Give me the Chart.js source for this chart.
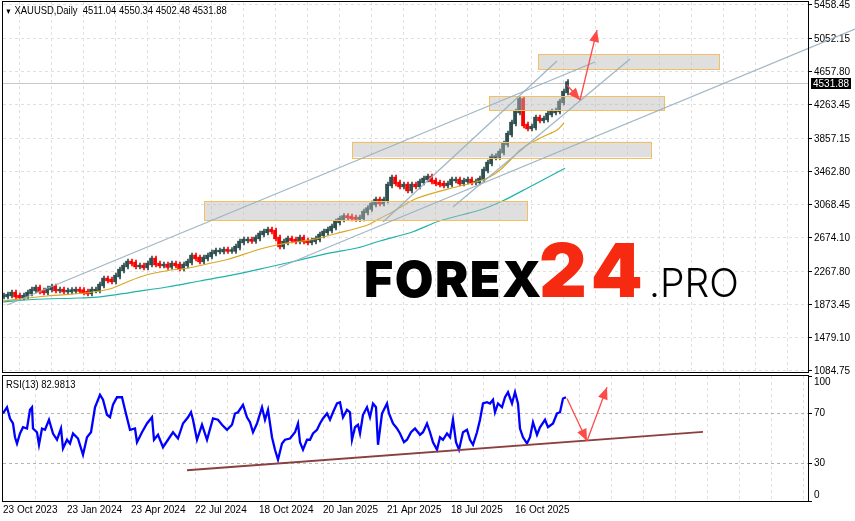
<!DOCTYPE html>
<html>
<head>
<meta charset="utf-8">
<script src="https://cdn.jsdelivr.net/npm/chart.js@4.4.0/dist/chart.umd.min.js"></script>
<style>
html, body { margin: 0; padding: 0; background: #fff; }
#wrap { position: relative; width: 855px; height: 521px; overflow: hidden; }
.txt { position: absolute; white-space: pre; color: #000; font-size: 11px; transform: scaleX(0.86); transform-origin: left top;
       font-family: "Liberation Sans", sans-serif; }
.logo { position: absolute; white-space: pre; line-height: 1; font-family: Inter, "Open Sans", sans-serif; }
</style>
</head>
<body>
<div id="wrap">
  <canvas id="priceChart" width="855" height="375" style="position:absolute;left:0;top:0"></canvas>
  <canvas id="rsiChart" width="855" height="147" style="position:absolute;left:0;top:374px"></canvas>
  <div class="txt" id="title" style="left:5px;top:4px"></div>
  <div class="txt" id="rsiTitle" style="left:6px;top:378px"></div>
  <div class="logo" style="left:364px;top:254px;font-size:50px;font-weight:900;letter-spacing:1.5px;color:#000">FOREX</div>
  <div class="logo" style="left:539px;top:233px;font-size:74px;font-weight:900;letter-spacing:5px;color:#f62a10">24</div>
  <div class="logo" style="left:649px;top:263px;font-size:39px;font-weight:300;color:#000">.PRO</div>
</div>
<script>
// Data: one point per 4 daily bars, XAUUSD closes
const symbol = 'XAUUSD,Daily';
const lastBar = [4511.04, 4550.34, 4502.48, 4531.88]; // O H L C
const barsPerPoint = 4;
const closes = [
    1980, 1992, 2016, 1980, 1968, 1980, 2016, 2052, 2076, 2040,
    2028, 2064, 2088, 2052, 2052, 2040, 2040, 2046, 2052, 2046,
    2028, 2016, 2052, 2052, 2112, 2184, 2172, 2160, 2219, 2291,
    2339, 2387, 2375, 2339, 2339, 2327, 2363, 2423, 2363, 2351,
    2351, 2333, 2363, 2351, 2315, 2351, 2387, 2459, 2435, 2399,
    2435, 2459, 2494, 2518, 2518, 2530, 2524, 2524, 2566, 2626,
    2650, 2650, 2644, 2674, 2722, 2746, 2769, 2757, 2674, 2578,
    2626, 2662, 2650, 2638, 2674, 2638, 2626, 2638, 2662, 2710,
    2746, 2769, 2805, 2865, 2901, 2931, 2925, 2913, 2907, 2913,
    2984, 3026, 3080, 3128, 3092, 3128, 3307, 3391, 3331, 3295,
    3307, 3247, 3307, 3295, 3343, 3379, 3403, 3355, 3331, 3319,
    3307, 3319, 3367, 3367, 3331, 3355, 3367, 3343, 3343, 3379,
    3486, 3570, 3642, 3648, 3701, 3797, 3916, 4048, 4179, 4330,
    4024, 3988, 4000, 4108, 4084, 4096, 4155, 4179, 4191, 4299,
    4418, 4531.88
];

// Moving averages (bar number, price)
const maFastBars = [0, 44, 80, 97, 110, 124, 137, 147, 164, 184, 204, 225, 254, 274, 287, 307, 320, 334, 354, 367, 377, 390, 414, 454, 474, 487, 497, 510, 517, 527, 540, 554, 561];
const maFast = [1921, 1981, 2013, 2040, 2076, 2148, 2208, 2244, 2283, 2312, 2363, 2419, 2530, 2590, 2618, 2650, 2682, 2730, 2790, 2841, 2909, 2988, 3148, 3287, 3347, 3406, 3486, 3638, 3725, 3805, 3884, 3964, 4048];
const maSlowBars = [0, 30, 77, 97, 130, 164, 197, 230, 264, 297, 327, 354, 377, 410, 437, 477, 500, 527, 562];
const maSlow = [1909, 1939, 1957, 1969, 2028, 2088, 2160, 2232, 2321, 2411, 2495, 2554, 2638, 2749, 2880, 3008, 3119, 3287, 3507];

// RSI(13)
const rsiBars = [
    0, 4, 7, 10, 12, 14, 17, 20, 24, 27, 29, 30, 34, 36, 39, 42, 46, 50, 54, 58,
    60, 64, 67, 70, 75, 80, 84, 88, 92, 97, 100, 104, 107, 110, 114, 119, 122, 127, 132, 134,
    139, 144, 149, 151, 155, 160, 165, 170, 175, 180, 185, 188, 190, 194, 199, 204, 210, 215, 219, 224,
    229, 232, 235, 240, 244, 247, 250, 254, 259, 262, 265, 269, 272, 275, 279, 282, 287, 292, 295, 297,
    300, 304, 307, 310, 314, 317, 320, 324, 327, 330, 334, 337, 340, 344, 347, 349, 352, 355, 357, 360,
    364, 367, 370, 373, 375, 379, 384, 386, 390, 394, 397, 401, 404, 408, 412, 417, 420, 424, 427, 430,
    434, 437, 440, 444, 447, 450, 453, 456, 460, 464, 467, 470, 474, 477, 480, 484, 487, 490, 492, 495,
    499, 502, 505, 509, 512, 515, 517, 520, 524, 527, 530, 534, 537, 542, 545, 550, 554, 557, 560, 563
];
const rsiValues = [
    70, 75, 66, 62, 51, 46, 54, 59, 58, 73, 75, 58, 55, 45, 58, 57, 65, 54, 49, 58,
    42, 49, 46, 54, 50, 37, 51, 55, 75, 85, 81, 69, 67, 77, 83, 83, 73, 57, 58, 47,
    55, 62, 67, 49, 53, 43, 49, 55, 50, 62, 67, 71, 65, 49, 61, 49, 66, 65, 61, 57,
    61, 70, 71, 77, 67, 63, 55, 62, 75, 65, 73, 51, 41, 33, 46, 49, 50, 55, 62, 47,
    41, 49, 49, 54, 57, 62, 66, 70, 65, 71, 78, 79, 67, 73, 71, 49, 59, 61, 54, 69,
    75, 67, 78, 75, 45, 70, 78, 70, 62, 58, 54, 47, 49, 55, 58, 53, 55, 62, 55, 47,
    41, 51, 49, 54, 51, 65, 47, 41, 55, 57, 49, 45, 55, 65, 78, 79, 78, 81, 71, 78,
    75, 83, 87, 78, 87, 78, 58, 51, 46, 51, 63, 53, 59, 65, 59, 62, 70, 71, 82, 82.9813
];

// Axes
const dateLabels = ['23 Oct 2023', '23 Jan 2024', '23 Apr 2024', '22 Jul 2024', '18 Oct 2024', '20 Jan 2025', '21 Apr 2025', '18 Jul 2025', '16 Oct 2025'];
const priceTicks = [5458.45, 5052.15, 4657.80, 4263.45, 3857.15, 3462.80, 3068.45, 2674.10, 2267.80, 1873.45, 1479.10, 1084.75];
const rsiTicks = [0, 30, 70, 100];
const priceMin = 1072.4, priceMax = 5493.9;
const barMax = 805;

// Drawn objects: zones [bar from, bar to, price low, price high], lines [bar, price, bar, price]
const zones = [[535, 716, 4690, 4869], [486, 661, 4195, 4367], [349, 648, 3638, 3824], [201, 524, 2880, 3112]];
const trendLines = [
    [4, 1873, 592, 4777],
    [275, 2315, 852, 5171],
    [380, 2865, 554, 4789],
    [450, 3044, 627, 4813]
];
const priceArrows = [[564, 4502], [577, 4323], [594, 5159]];
const rsiLine = [184, 24.6, 700, 55.3];
const rsiArrows = [[564, 82], [584, 48], [604, 91]];

const FONT = '"Liberation Sans", sans-serif';
const gridBars = [];
for (let b = 32; b <= barMax; b += 32) gridBars.push(b);

document.getElementById('title').innerHTML =
    '<span style="font-size:8px">&#9660;</span> ' + symbol + '  ' + lastBar.map(v => v.toFixed(2)).join(' ');
document.getElementById('rsiTitle').textContent = 'RSI(13) ' + rsiValues[rsiValues.length - 1].toFixed(4);

// Candles: body from previous close to close, thin wick around it
const candles = closes.map((c, i) => {
    const prev = i ? closes[i - 1] : c;
    return { x: i * barsPerPoint, y: [Math.min(prev, c) - 10, Math.max(prev, c) + 10] };
});
const wicks = closes.map((c, i) => {
    const prev = i ? closes[i - 1] : c;
    return { x: i * barsPerPoint + 1, y: [Math.min(prev, c) - 35, Math.max(prev, c) + 35] };
});
const candleColors = closes.map((c, i) => (i && c < closes[i - 1]) ? '#ff0000' : '#2f4f4f');

function noPad(s) {
    s.paddingTop = 0; s.paddingBottom = 0; s.paddingLeft = 0; s.paddingRight = 0;
}

function drawArrow(ctx, x1, y1, x2, y2, color) {
    ctx.strokeStyle = color;
    ctx.fillStyle = color;
    ctx.lineWidth = 1.3;
    ctx.beginPath();
    ctx.moveTo(x1, y1);
    ctx.lineTo(x2, y2);
    ctx.stroke();
    const a = Math.atan2(y2 - y1, x2 - x1), L = 12, W = 5;
    ctx.beginPath();
    ctx.moveTo(x2, y2);
    ctx.lineTo(x2 - L * Math.cos(a) + W * Math.sin(a), y2 - L * Math.sin(a) - W * Math.cos(a));
    ctx.lineTo(x2 - L * Math.cos(a) - W * Math.sin(a), y2 - L * Math.sin(a) + W * Math.cos(a));
    ctx.closePath();
    ctx.fill();
}

function drawFrame(chart) {
    const a = chart.chartArea, ctx = chart.ctx;
    ctx.save();
    ctx.strokeStyle = '#000';
    ctx.lineWidth = 1;
    ctx.strokeRect(a.left - 0.5, a.top - 0.5, a.right - a.left + 1, a.bottom - a.top + 1);
    ctx.restore();
}

const priceOverlay = {
    id: 'priceOverlay',
    beforeDatasetsDraw(chart) {
        const { ctx, chartArea: a, scales: { y } } = chart;
        const py = Math.round(y.getPixelForValue(lastBar[3])) + 0.5;
        ctx.save();
        ctx.strokeStyle = '#c8c8c8';
        ctx.lineWidth = 1;
        ctx.beginPath();
        ctx.moveTo(a.left, py);
        ctx.lineTo(a.right, py);
        ctx.stroke();
        ctx.restore();
    },
    afterDatasetsDraw(chart) {
        const { ctx, scales: { x, y } } = chart;
        ctx.save();
        zones.forEach(z => {
            const x1 = x.getPixelForValue(z[0]), x2 = x.getPixelForValue(z[1]);
            const y1 = y.getPixelForValue(z[3]), y2 = y.getPixelForValue(z[2]);
            ctx.fillStyle = 'rgba(185,185,185,0.45)';
            ctx.fillRect(x1, y1, x2 - x1, y2 - y1);
            ctx.strokeStyle = '#f3bf5f';
            ctx.lineWidth = 1;
            ctx.strokeRect(Math.round(x1) + 0.5, Math.round(y1) + 0.5, Math.round(x2 - x1), Math.round(y2 - y1));
        });
        trendLines.forEach(l => {
            ctx.strokeStyle = 'rgba(150,175,192,0.9)';
            ctx.lineWidth = 1.3;
            ctx.beginPath();
            ctx.moveTo(x.getPixelForValue(l[0]), y.getPixelForValue(l[1]));
            ctx.lineTo(x.getPixelForValue(l[2]), y.getPixelForValue(l[3]));
            ctx.stroke();
        });
        for (let i = 1; i < priceArrows.length; i++) {
            const p = priceArrows[i - 1], q = priceArrows[i];
            drawArrow(ctx, x.getPixelForValue(p[0]), y.getPixelForValue(p[1]),
                x.getPixelForValue(q[0]), y.getPixelForValue(q[1]), '#ff4a4a');
        }
        ctx.restore();
    },
    afterDraw(chart) {
        drawFrame(chart);
        const { ctx, chartArea: a, scales: { y } } = chart;
        const py = Math.round(y.getPixelForValue(lastBar[3]));
        ctx.save();
        ctx.fillStyle = '#000';
        ctx.fillRect(a.right + 3, py - 5, 40, 11);
        ctx.fillStyle = '#fff';
        ctx.font = '10px ' + FONT;
        ctx.textBaseline = 'middle';
        ctx.fillText(lastBar[3].toFixed(2), a.right + 5, py + 1);
        ctx.restore();
    }
};

const rsiOverlay = {
    id: 'rsiOverlay',
    afterDatasetsDraw(chart) {
        const { ctx, scales: { x, y } } = chart;
        ctx.save();
        ctx.strokeStyle = '#8b3f3f';
        ctx.lineWidth = 2;
        ctx.beginPath();
        ctx.moveTo(x.getPixelForValue(rsiLine[0]), y.getPixelForValue(rsiLine[1]));
        ctx.lineTo(x.getPixelForValue(rsiLine[2]), y.getPixelForValue(rsiLine[3]));
        ctx.stroke();
        for (let i = 1; i < rsiArrows.length; i++) {
            const p = rsiArrows[i - 1], q = rsiArrows[i];
            drawArrow(ctx, x.getPixelForValue(p[0]), y.getPixelForValue(p[1]),
                x.getPixelForValue(q[0]), y.getPixelForValue(q[1]), '#ff4a4a');
        }
        ctx.restore();
    },
    afterDraw(chart) {
        drawFrame(chart);
    }
};

new Chart(document.getElementById('priceChart'), {
    type: 'bar',
    data: {
        datasets: [
            { type: 'line', data: maSlowBars.map((b, i) => ({ x: b, y: maSlow[i] })), borderColor: '#20b2aa', borderWidth: 1.2, pointRadius: 0, tension: 0.3 },
            { type: 'line', data: maFastBars.map((b, i) => ({ x: b, y: maFast[i] })), borderColor: '#daa520', borderWidth: 1.1, pointRadius: 0, tension: 0.3 },
            { data: wicks, backgroundColor: candleColors, barThickness: 1, borderWidth: 0, grouped: false },
            { data: candles, backgroundColor: candleColors, barThickness: 3, borderWidth: 0, grouped: false }
        ]
    },
    options: {
        responsive: false,
        animation: false,
        devicePixelRatio: 1,
        layout: { padding: { left: 3, top: 2, right: 0, bottom: 3 } },
        plugins: { legend: { display: false }, tooltip: { enabled: false } },
        scales: {
            x: {
                type: 'linear', min: 0, max: barMax, offset: false,
                afterBuildTicks: s => { s.ticks = gridBars.map(v => ({ value: v })); },
                afterFit: s => { s.height = 0; noPad(s); },
                ticks: { display: false },
                grid: { color: '#e0e0e0', drawTicks: false },
                border: { display: false, dash: [3, 3] }
            },
            y: {
                type: 'linear', position: 'right', min: priceMin, max: priceMax,
                afterBuildTicks: s => { s.ticks = priceTicks.map(v => ({ value: v })); },
                afterFit: s => { s.width = 47; noPad(s); },
                ticks: { color: '#000', autoSkip: false, padding: 2, font: { family: FONT, size: 10 }, callback: v => v.toFixed(2) },
                grid: { color: '#e0e0e0', tickColor: '#000', tickLength: 4 },
                border: { display: false, dash: [3, 3] }
            }
        }
    },
    plugins: [priceOverlay]
});

new Chart(document.getElementById('rsiChart'), {
    type: 'line',
    data: {
        datasets: [
            { data: rsiBars.map((b, i) => ({ x: b, y: rsiValues[i] })), borderColor: '#0000ff', borderWidth: 2.3, pointRadius: 0, tension: 0 }
        ]
    },
    options: {
        responsive: false,
        animation: false,
        devicePixelRatio: 1,
        layout: { padding: { left: 3, top: 2, right: 0, bottom: 0 } },
        plugins: { legend: { display: false }, tooltip: { enabled: false } },
        scales: {
            x: {
                type: 'linear', min: 0, max: barMax, offset: false,
                afterBuildTicks: s => { s.ticks = [0].concat(gridBars).map(v => ({ value: v })); },
                afterFit: s => { s.height = 20; noPad(s); },
                ticks: {
                    color: '#000', autoSkip: false, maxRotation: 0, align: 'start', padding: 3,
                    font: { family: FONT, size: 10 },
                    callback: v => (v % 64 === 0 && dateLabels[v / 64]) ? dateLabels[v / 64] : ''
                },
                grid: { color: c => c.tick && c.tick.value === 0 ? 'rgba(0,0,0,0)' : '#e0e0e0', drawTicks: false },
                border: { display: false, dash: [3, 3] }
            },
            y: {
                type: 'linear', position: 'right', min: 0, max: 100,
                afterBuildTicks: s => { s.ticks = rsiTicks.map(v => ({ value: v })); },
                afterFit: s => { s.width = 47; noPad(s); },
                ticks: {
                    color: '#000', autoSkip: false, padding: 2, font: { family: FONT, size: 10 },
                    callback: v => v === 100 ? ['', '100'] : (v === 0 ? ['0', ''] : String(v))
                },
                grid: {
                    color: c => c.tick && (c.tick.value === 30 || c.tick.value === 70) ? '#b4b4b4' : 'rgba(0,0,0,0)',
                    tickColor: '#000', tickLength: 4
                },
                border: { display: false, dash: [3, 3] }
            }
        }
    },
    plugins: [rsiOverlay]
});
</script>
</body>
</html>
